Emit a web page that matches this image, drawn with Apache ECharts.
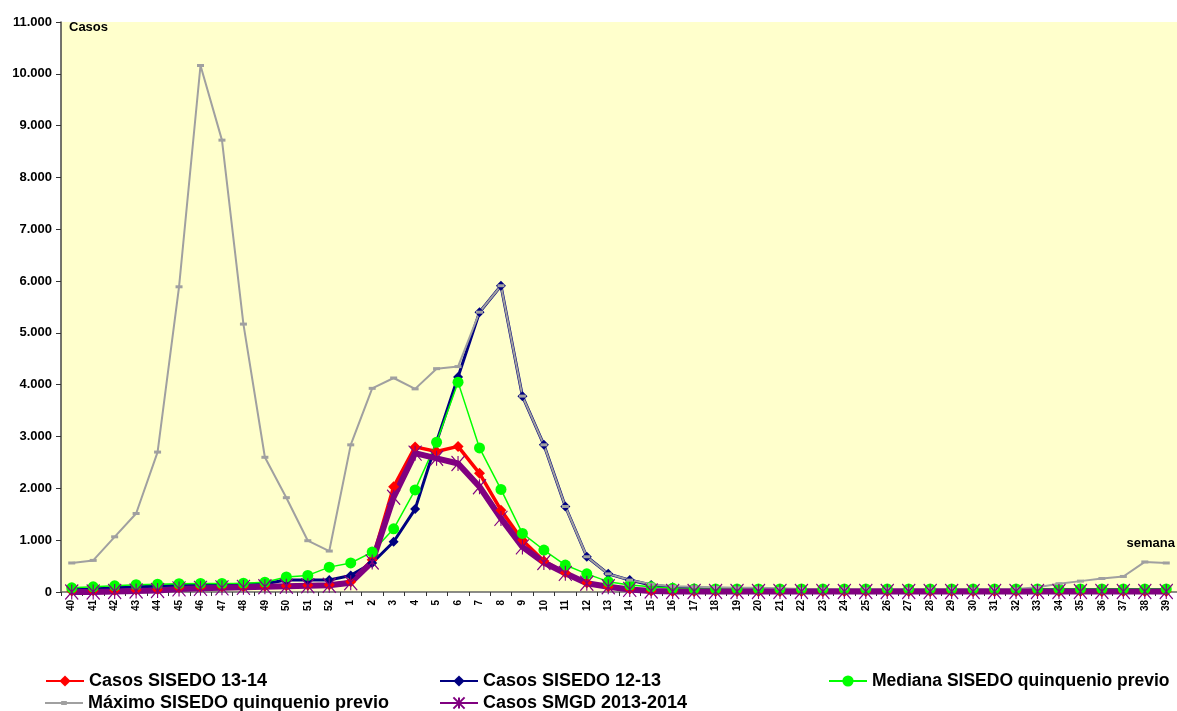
<!DOCTYPE html>
<html>
<head>
<meta charset="utf-8">
<script src="https://cdn.jsdelivr.net/npm/echarts@6/dist/echarts.min.js"></script>
<style>
html,body{margin:0;padding:0;background:#fff;}
#chart{width:1177px;height:711px;}
</style>
</head>
<body>
<div id="chart"></div>
<script>
// semanas de la temporada (40 a 39)
var semanas = ['40','41','42','43','44','45','46','47','48','49','50','51','52',
  '1','2','3','4','5','6','7','8','9','10','11','12','13','14','15','16','17','18','19','20',
  '21','22','23','24','25','26','27','28','29','30','31','32','33','34','35','36','37','38','39'];

var casos1314 = [20,25,30,40,50,80,90,100,100,110,120,130,140,
  200,620,2030,2800,2710,2810,2290,1580,1000,600,370,180,100,60,20,10,10,10,10,10,
  10,10,10,10,10,10,10,10,10,10,10,10,10,10,10,10,10,10,10];

var casos1213 = [50,60,80,100,110,130,140,140,150,160,230,230,230,
  320,560,970,1600,2900,4150,5400,5910,3780,2840,1650,680,350,230,135,90,70,60,50,50,
  50,50,50,50,50,50,50,50,50,50,50,50,50,50,50,50,50,50,50];

var mediana = [80,100,120,140,150,160,165,165,170,190,290,320,480,
  560,770,1220,1970,2890,4050,2780,1980,1130,810,520,350,200,135,100,70,60,60,60,60,
  60,60,60,60,60,60,60,60,60,60,60,60,60,60,60,60,60,60,60];

var maximo = [560,610,1065,1515,2700,5890,10160,8720,5170,2600,1820,990,790,
  2840,3930,4130,3920,4310,4350,5400,5910,3780,2840,1650,680,350,230,150,110,100,90,80,80,
  70,60,60,60,60,60,60,60,60,60,60,60,90,160,210,260,300,580,560];

var smgd = [0,0,10,20,30,60,70,80,90,100,110,120,130,
  180,580,1830,2680,2580,2480,2030,1420,870,570,360,170,100,50,20,10,10,10,10,10,
  10,10,10,10,10,10,10,10,10,10,10,10,10,10,10,10,10,10,10];

var nombres = ['Casos SISEDO 13-14','Casos SISEDO 12-13','Mediana SISEDO quinquenio previo',
  'Máximo SISEDO quinquenio previo','Casos SMGD 2013-2014'];

var fuente = 'Arial, "Liberation Sans", sans-serif';
var asterisco = 'path://M0,0L10,12M10,0L0,12M5,0L5,12';

function leyenda(item, left, top, size) {
  return {
    data: [item],
    left: left,
    top: top,
    itemWidth: 38,
    itemHeight: 14,
    itemGap: 0,
    textStyle: {fontSize: size || 18, fontWeight: 'bold', color: '#000', fontFamily: fuente}
  };
}

var option = {
  animation: false,
  textStyle: {fontFamily: fuente},
  grid: {left: 61, right: 0, top: 22, bottom: 119, show: true, backgroundColor: '#FFFFCC', borderWidth: 0},
  legend: [
    leyenda(nombres[0], 40, 667),
    leyenda(nombres[1], 434, 667),
    leyenda(nombres[2], 823, 667, 17.5),
    // linea gris con guion pequeño, como en el original
    leyenda({name: nombres[3], icon: 'path://M0,6H40V8H0ZM17,5H23V9H17Z'}, 40, 689),
    leyenda(nombres[4], 434, 689)
  ],
  graphic: [
    {type: 'text', left: 69, top: 21, style: {text: 'Casos', font: 'bold 13px ' + fuente, fill: '#000'}},
    {type: 'text', right: 2, top: 537, style: {text: 'semana', font: 'bold 13px ' + fuente, fill: '#000'}}
  ],
  xAxis: {
    type: 'category',
    data: semanas,
    boundaryGap: true,
    axisLine: {lineStyle: {color: '#666', width: 1.5}},
    axisTick: {show: true, inside: false, length: 4, lineStyle: {color: '#333'}},
    axisLabel: {rotate: 90, interval: 0, fontSize: 10, fontWeight: 'bold', color: '#000', margin: 8, fontFamily: fuente},
    splitLine: {show: false}
  },
  yAxis: {
    type: 'value',
    min: 0,
    max: 11000,
    interval: 1000,
    axisLine: {show: true, lineStyle: {color: '#444', width: 1.5}},
    axisTick: {show: true, length: 5, lineStyle: {color: '#333'}},
    axisLabel: {
      fontSize: 13, fontWeight: 'bold', color: '#000', margin: 9, fontFamily: fuente,
      formatter: function (v) { return v === 0 ? '0' : (v / 1000) + '.000'; }
    },
    splitLine: {show: false}
  },
  series: [
    {
      name: nombres[0], type: 'line', data: casos1314,
      symbol: 'diamond', symbolSize: 11,
      lineStyle: {color: '#FF0000', width: 3.5},
      itemStyle: {color: '#FF0000'}
    },
    {
      name: nombres[1], type: 'line', data: casos1213,
      symbol: 'diamond', symbolSize: 10,
      lineStyle: {color: '#000080', width: 3},
      itemStyle: {color: '#000080'}
    },
    {
      name: nombres[2], type: 'line', data: mediana,
      symbol: 'circle', symbolSize: 11,
      lineStyle: {color: '#00FF00', width: 1.5},
      itemStyle: {color: '#00FF00'}
    },
    {
      name: nombres[3], type: 'line', data: maximo,
      symbol: 'rect', symbolSize: [7, 3],
      lineStyle: {color: '#A0A0A0', width: 2},
      itemStyle: {color: '#A0A0A0'}
    },
    {
      name: nombres[4], type: 'line', data: smgd,
      symbol: asterisco, symbolSize: [13, 15],
      lineStyle: {color: '#800080', width: 6},
      itemStyle: {color: '#800080', borderColor: '#800080', borderWidth: 1.2}
    }
  ]
};

var myChart = echarts.init(document.getElementById('chart'));
myChart.setOption(option);
</script>
</body>
</html>
